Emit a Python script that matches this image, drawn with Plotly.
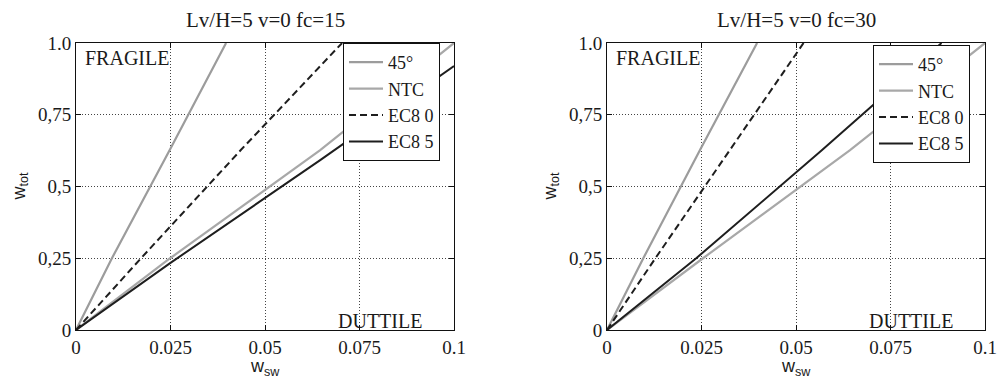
import plotly.graph_objects as go

# ---- data ----
series_names = ["45°", "NTC", "EC8 0", "EC8 5"]
panel_titles = ["Lv/H=5 v=0 fc=15", "Lv/H=5 v=0 fc=30"]

# left panel (fc=15)
l45_x = [0, 0.0095, 0.0249, 0.0397]
l45_y = [0, 0.25, 0.63, 1.0]
lntc_x = [0, 0.0249, 0.0646, 0.1]
lntc_y = [0, 0.25, 0.627, 1.0]
lec80_x = [0, 0.0172, 0.0436, 0.0704]
lec80_y = [0, 0.25, 0.627, 1.0]
lec85_x = [0, 0.0249, 0.0646, 0.1]
lec85_y = [0, 0.233, 0.592, 0.92]

# right panel (fc=30)
r45_x = [0, 0.0096, 0.0246, 0.0397]
r45_y = [0, 0.25, 0.627, 1.0]
rntc_x = [0, 0.0254, 0.0643, 0.1]
rntc_y = [0, 0.25, 0.627, 1.0]
rec80_x = [0, 0.0128, 0.0325, 0.052]
rec80_y = [0, 0.25, 0.627, 1.0]
rec85_x = [0, 0.0236, 0.0569, 0.0704, 0.0885]
rec85_y = [0, 0.25, 0.627, 0.784, 1.0]

x_tickvals = [0, 0.025, 0.05, 0.075, 0.1]
x_ticktext = ["0", "0.025", "0.05", "0.075", "0.1"]
y_tickvals = [0, 0.25, 0.5, 0.75, 1.0]
y_ticktext = ["0", "0,25", "0,5", "0,75", "1.0"]

SERIF = "Liberation Serif, Times New Roman, serif"
SANS = "Liberation Sans, Arial, sans-serif"
TXT = "#1a1a1a"

styles = [
    dict(color="#9c9c9c", width=2.2),
    dict(color="#a8a8a8", width=2.2),
    dict(color="#1e1e1e", width=2, dash="7px,4px"),
    dict(color="#1e1e1e", width=2),
]

fig = go.Figure()

panels = [
    ("x", "y", "legend", [(l45_x, l45_y), (lntc_x, lntc_y), (lec80_x, lec80_y), (lec85_x, lec85_y)]),
    ("x2", "y2", "legend2", [(r45_x, r45_y), (rntc_x, rntc_y), (rec80_x, rec80_y), (rec85_x, rec85_y)]),
]
for xa, ya, lg, data in panels:
    for name, st, (xs, ys) in zip(series_names, styles, data):
        fig.add_trace(go.Scatter(x=xs, y=ys, mode="lines", name=name, line=st,
                                 xaxis=xa, yaxis=ya, legend=lg, showlegend=True))

W, H = 1002, 383
top_px, bot_px = 43, 330
ydom = [(H - bot_px) / H, (H - top_px) / H]
xdom1 = [76 / W, 454 / W]
xdom2 = [607 / W, 985 / W]

axis_common = dict(
    showline=True, linecolor="#111", linewidth=1, mirror="ticks",
    ticks="inside", ticklen=5, tickcolor="#111", tickwidth=1,
    showgrid=True, gridcolor="#444", gridwidth=1, griddash="1px,2px",
    zeroline=False, automargin=False,
    tickfont=dict(family=SERIF, size=19, color=TXT),
)

legend_common = dict(
    xanchor="left", yanchor="top",
    bgcolor="white", bordercolor="#111", borderwidth=1,
    font=dict(family=SERIF, size=18, color=TXT), itemwidth=34, tracegroupgap=0,
)

fig.update_layout(
    width=W, height=H, margin=dict(l=0, r=0, t=0, b=0, autoexpand=False),
    font=dict(family=SERIF, color=TXT),
    paper_bgcolor="white", plot_bgcolor="white",
    xaxis=dict(domain=xdom1, range=[0, 0.1], tickvals=x_tickvals, ticktext=x_ticktext,
               anchor="y", **axis_common),
    yaxis=dict(domain=ydom, range=[0, 1.0], tickvals=y_tickvals, ticktext=y_ticktext,
               anchor="x", **axis_common),
    xaxis2=dict(domain=xdom2, range=[0, 0.1], tickvals=x_tickvals, ticktext=x_ticktext,
                anchor="y2", **axis_common),
    yaxis2=dict(domain=ydom, range=[0, 1.0], tickvals=y_tickvals, ticktext=y_ticktext,
                anchor="x2", **axis_common),
    legend=dict(x=343 / W, y=1 - 43 / H, **legend_common),
    legend2=dict(x=873 / W, y=1 - 45 / H, **legend_common),
)

ann = []
for i, (xr, yr) in enumerate([("x", "y"), ("x2", "y2")]):
    ann.append(dict(text=panel_titles[i], xref=xr, yref="paper", x=0.05, y=1 - 20 / H,
                    xanchor="center", yanchor="middle", showarrow=False,
                    font=dict(family=SERIF, size=21, color=TXT)))
    ann.append(dict(text="FRAGILE", xref=xr, yref=yr, x=0.0018, y=0.948,
                    xanchor="left", yanchor="middle", showarrow=False,
                    font=dict(family=SERIF, size=20, color=TXT)))
    ann.append(dict(text="DUTTILE", xref=xr, yref=yr, x=0.092, y=0.032,
                    xanchor="right", yanchor="middle", showarrow=False,
                    font=dict(family=SERIF, size=20, color=TXT)))
    ann.append(dict(text="w<sub>sw</sub>", xref=xr, yref="paper", x=0.05, y=1 - 367 / H,
                    xanchor="center", yanchor="middle", showarrow=False,
                    font=dict(family=SANS, size=18, color=TXT)))
    ann.append(dict(text="w<sub>tot</sub>", xref=f"{xr} domain", yref=f"{yr} domain",
                    x=-56 / 378, y=0.5, xanchor="center", yanchor="middle",
                    textangle=-90, showarrow=False,
                    font=dict(family=SANS, size=18, color=TXT)))
fig.update_layout(annotations=ann)

fig.write_html("out.html")
